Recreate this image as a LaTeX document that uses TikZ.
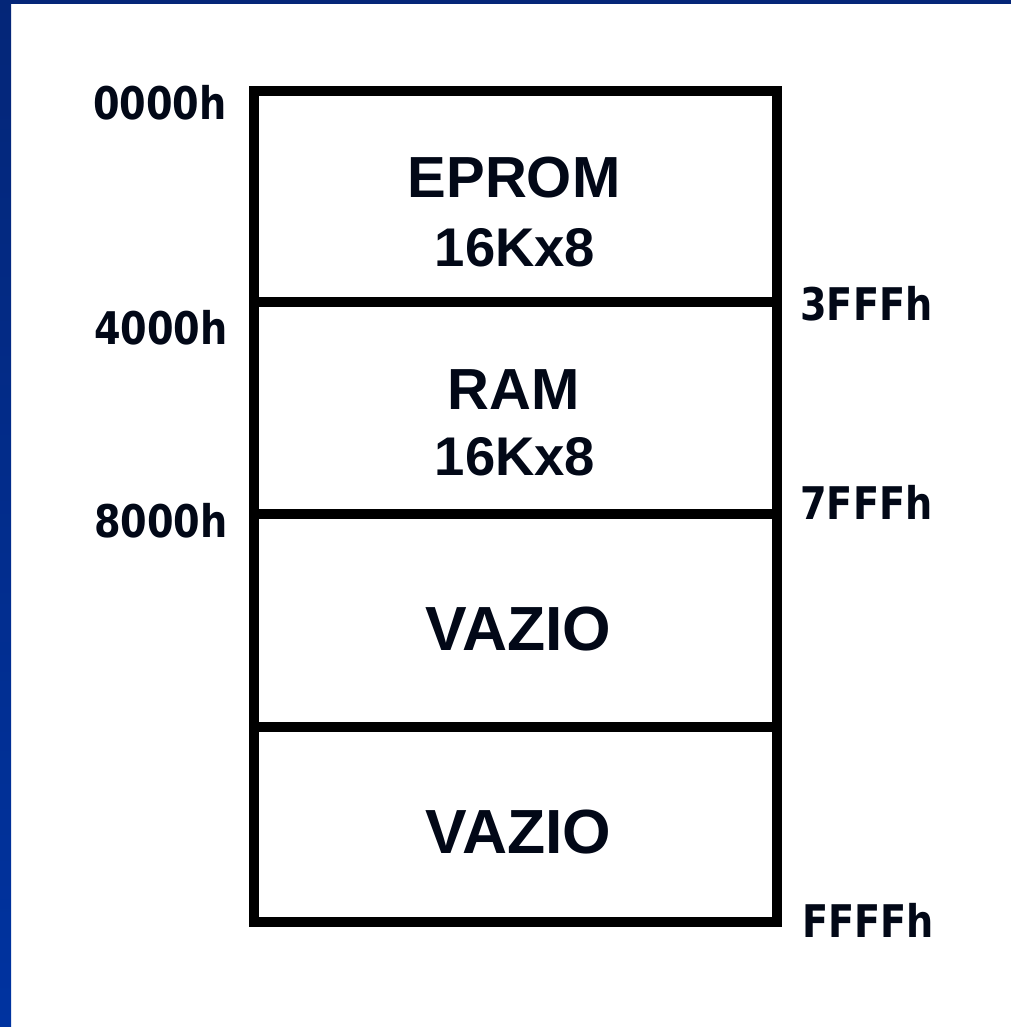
\documentclass[tikz,border=0pt]{standalone}
\usepackage{fontspec}
\setmainfont{Liberation Sans}
\newfontfamily\addrfont{DejaVu Sans}[FakeStretch=0.85]
\usepackage{xcolor}
\usetikzlibrary{positioning}
\definecolor{ink}{RGB}{2,8,23}
\definecolor{barblue}{RGB}{0,51,160}
\definecolor{bartop}{RGB}{4,38,120}

\begin{document}
\begin{tikzpicture}[x=0.02cm, y=-0.02cm,
  seg/.style={draw, line width=0.2cm, minimum width=10.46cm, minimum height=#1, outer sep=0pt, inner sep=0pt},
  blk/.style={font=\fontsize{#1}{#1}\selectfont\bfseries, text=ink, inner sep=0pt},
  addr/.style={font=\addrfont\fontsize{25.6}{26}\selectfont\bfseries, text=ink, inner sep=0pt}]
% page and blue frame
\useasboundingbox (0,0) rectangle (1011,1027);
\fill[white] (0,0) rectangle (1011,1027);
\shade[top color=bartop, bottom color=barblue] (0,0) rectangle (11,1027);
\fill[bartop] (0,0) rectangle (1011,4);
% memory map
\node[seg=4.22cm, anchor=north west] (eprom) at (254,91) {};
\node[seg=4.24cm, below=0pt of eprom] (ram) {};
\node[seg=4.26cm, below=0pt of ram] (vazA) {};
\node[seg=3.90cm, below=0pt of vazA] (vazB) {};
\node[blk=33] (epromT) at (514,178) {EPROM};
\node[blk=31] (epromS) at (515,248) {16Kx8};
\node[blk=33] (ramT) at (514,390) {RAM};
\node[blk=31] (ramS) at (515,457) {16Kx8};
\node[blk=35.5] (vazAT) at (518,629) {VAZIO};
\node[blk=35.5] (vazBT) at (518,832) {VAZIO};
% addresses
\node[addr, anchor=east] (a0) at (227,103) {0000h};
\node[addr, anchor=east] (a4) at (228,328) {4000h};
\node[addr, anchor=east] (a8) at (228,521) {8000h};
\node[addr, anchor=west] (e3) at (800,304) {3FFFh};
\node[addr, anchor=west] (e7) at (800,502) {7FFFh};
\node[addr, anchor=west] (eF) at (802,920) {FFFFh};
\end{tikzpicture}
\end{document}
